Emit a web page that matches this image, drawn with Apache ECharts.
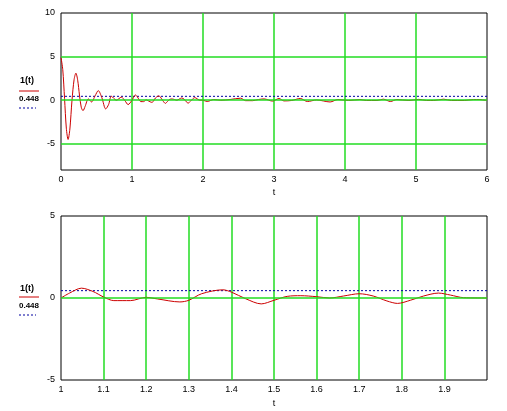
<!DOCTYPE html>
<html>
<head>
<meta charset="utf-8">
<script src="https://cdn.jsdelivr.net/npm/echarts@6/dist/echarts.min.js"></script>
<style>html,body{margin:0;padding:0;background:#fff}#c{width:507px;height:411px}</style>
</head>
<body>
<div id="c"></div>
<script>
// ---- data ----
// response 1(t), segment 0..1
const tSegA = [0, 0.025, 0.05, 0.075, 0.1, 0.125, 0.155, 0.185, 0.21, 0.235, 0.26, 0.285, 0.31, 0.34, 0.385, 0.43, 0.48, 0.525, 0.575, 0.63, 0.67, 0.71, 0.78, 0.85, 0.9, 0.945];
const ySegA = [4.9, 3.5, 0.2, -3.2, -4.5, -3.3, 0.0, 2.4, 3.1, 2.3, 0.6, -0.8, -1.2, -0.7, 0.15, -0.2, 0.5, 1.1, 0.3, -1.0, -0.5, 0.45, 0.0, 0.35, -0.05, -0.5];
// segment 1..2 (shown enlarged in the lower plot)
const tSegB = [1.0, 1.02, 1.048, 1.075, 1.1, 1.124, 1.163, 1.2, 1.227, 1.279, 1.3, 1.33, 1.38, 1.4, 1.433, 1.47, 1.5, 1.531, 1.563, 1.6, 1.631, 1.663, 1.7, 1.733, 1.765, 1.79, 1.82, 1.851, 1.886, 1.914, 1.945, 2.0];
const ySegB = [0.0, 0.3, 0.6, 0.4, 0.06, -0.16, -0.16, 0.04, -0.06, -0.24, -0.14, 0.26, 0.5, 0.36, -0.04, -0.36, -0.14, 0.1, 0.14, 0.08, 0.0, 0.12, 0.26, 0.12, -0.18, -0.33, -0.14, 0.12, 0.3, 0.18, 0.02, 0.0];
// segment 2..6
const tSegC = [2.06, 2.15, 2.25, 2.38, 2.53, 2.6, 2.7, 2.78, 2.86, 2.98, 3.07, 3.14, 3.25, 3.37, 3.47, 3.6, 3.79, 3.9, 4.05, 4.21, 4.3, 4.45, 4.54, 4.64, 4.73, 4.9, 5.04, 5.15, 5.25, 5.39, 5.5, 5.68, 5.81, 5.9, 5.98, 6.0];
const ySegC = [-0.15, 0.08, 0.0, 0.08, 0.23, -0.05, -0.05, 0.08, 0.15, -0.1, 0.2, -0.08, -0.03, 0.2, -0.15, 0.03, -0.2, 0.08, -0.03, 0.08, -0.03, -0.03, 0.12, -0.15, 0.08, -0.03, 0.1, -0.03, -0.03, 0.12, -0.03, -0.03, 0.08, 0.08, 0.0, 0.0];
const level = 0.448;
const levelLabel = '0.448';
const curveLabel = '1(t)';
const topYTicks = [10, 5, 0, -5];
const topYGrid = [5, 0, -5];
const botYGrid = [0];

// ---- build ----
const zip = (t, y) => t.map((v, i) => [v, y[i]]);
const topCurve = zip(tSegA, ySegA).concat(zip(tSegB, ySegB), zip(tSegC, ySegC));
const botCurve = zip(tSegB, ySegB);

const GREEN = '#22dd22';
const RED = '#cc0000';
const BLUE = '#0000a0';
const FONT = 'Liberation Sans';
const lblStyle = {color: '#000', fontSize: 9, fontFamily: FONT};

const chart = echarts.init(document.getElementById('c'), null, {renderer: 'canvas'});

function gridLines(vals, xAxisIndex, yAxisIndex) {
  return {
    type: 'line', xAxisIndex, yAxisIndex, data: [], silent: true, z: 1,
    markLine: {
      silent: true, symbol: 'none', animation: false,
      label: {show: false},
      lineStyle: {color: GREEN, type: 'solid', width: 1.5},
      data: vals.map(v => ({yAxis: v}))
    }
  };
}

const legend = (yText1, yLine1, yText2, yLine2) => [
  {type: 'text', left: 20, top: yText1 - 5, style: {text: curveLabel, fill: '#000', font: 'bold 9px ' + FONT}},
  {type: 'line', shape: {x1: 19, y1: yLine1, x2: 39, y2: yLine1}, style: {stroke: RED, lineWidth: 1}},
  {type: 'text', left: 19, top: yText2 - 5, style: {text: levelLabel, fill: '#000', font: 'bold 8px ' + FONT}},
  {type: 'line', shape: {x1: 19, y1: yLine2, x2: 36, y2: yLine2}, style: {stroke: BLUE, lineWidth: 1, lineDash: [2, 2]}}
];

const splitStyle = {show: true, showMinLine: false, showMaxLine: false, lineStyle: {color: GREEN, width: 1.5}};

chart.setOption({
  animation: false,
  backgroundColor: '#fff',
  grid: [
    {left: 61, top: 13, width: 426, height: 157, show: true, borderColor: '#000', borderWidth: 1, backgroundColor: 'transparent', outerBoundsMode: 'none', containLabel: false},
    {left: 61, top: 216, width: 426, height: 164, show: true, borderColor: '#000', borderWidth: 1, backgroundColor: 'transparent', outerBoundsMode: 'none', containLabel: false}
  ],
  xAxis: [
    {type: 'value', gridIndex: 0, min: 0, max: 6, interval: 1,
     axisLine: {show: false}, axisTick: {show: false},
     axisLabel: Object.assign({margin: 5}, lblStyle),
     splitLine: splitStyle,
     name: 't', nameLocation: 'middle', nameGap: 18, nameTextStyle: lblStyle},
    {type: 'value', gridIndex: 1, min: 1, max: 2, interval: 0.1,
     axisLine: {show: false}, axisTick: {show: false},
     axisLabel: Object.assign({margin: 5, showMaxLabel: false,
       formatter: v => Math.abs(v - Math.round(v)) < 1e-9 ? String(Math.round(v)) : v.toFixed(1)}, lblStyle),
     splitLine: splitStyle,
     name: 't', nameLocation: 'middle', nameGap: 19, nameTextStyle: lblStyle}
  ],
  yAxis: [
    {type: 'value', gridIndex: 0, min: -8, max: 10,
     axisLine: {show: false}, axisTick: {show: false},
     axisLabel: Object.assign({margin: 6, customValues: topYTicks}, lblStyle),
     splitLine: {show: false}},
    {type: 'value', gridIndex: 1, min: -5, max: 5, interval: 5,
     axisLine: {show: false}, axisTick: {show: false},
     axisLabel: Object.assign({margin: 6}, lblStyle),
     splitLine: {show: false}}
  ],
  series: [
    gridLines(topYGrid, 0, 0),
    gridLines(botYGrid, 1, 1),
    {type: 'line', xAxisIndex: 0, yAxisIndex: 0, z: 3, symbol: 'none',
     data: [[0, level], [6, level]], lineStyle: {color: BLUE, width: 1, type: [2, 2]}},
    {type: 'line', xAxisIndex: 0, yAxisIndex: 0, z: 4, symbol: 'none', smooth: 0.3,
     data: topCurve, lineStyle: {color: RED, width: 1}},
    {type: 'line', xAxisIndex: 1, yAxisIndex: 1, z: 3, symbol: 'none',
     data: [[1, level], [2, level]], lineStyle: {color: BLUE, width: 1, type: [2, 2]}},
    {type: 'line', xAxisIndex: 1, yAxisIndex: 1, z: 4, symbol: 'none', smooth: 0.3,
     data: botCurve, lineStyle: {color: RED, width: 1}}
  ],
  graphic: legend(81, 91, 100, 108).concat(legend(289, 297, 307, 315))
});
</script>
</body>
</html>
